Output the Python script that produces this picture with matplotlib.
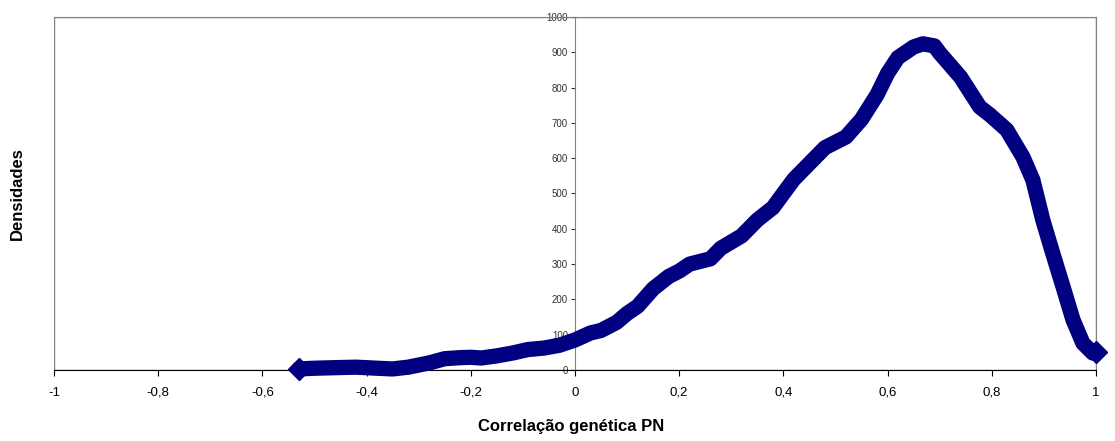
import numpy as np
import matplotlib.pyplot as plt
from matplotlib.patches import Rectangle

plt.rcParams['font.family'] = ['Liberation Sans', 'DejaVu Sans']

# density curve of the genetic correlation (PN)
corr = [-0.53, -0.50, -0.45, -0.42, -0.38, -0.35, -0.32, -0.28, -0.25, -0.22,
        -0.20, -0.18, -0.15, -0.12, -0.09, -0.06, -0.03, 0.00, 0.03, 0.05,
        0.08, 0.10, 0.12, 0.15, 0.18, 0.20, 0.22, 0.26, 0.28, 0.32,
        0.35, 0.38, 0.40, 0.42, 0.45, 0.48, 0.50, 0.52, 0.55, 0.58,
        0.60, 0.62, 0.65, 0.668, 0.69, 0.70, 0.74, 0.777, 0.797, 0.829,
        0.86, 0.879, 0.898, 0.917, 0.937, 0.956, 0.975, 0.994, 1.00]
dens = [3, 5, 7, 8, 5, 3, 8, 20, 32, 35,
        36, 34, 40, 48, 58, 62, 70, 85, 105, 112,
        135, 160, 180, 230, 265, 280, 300, 315, 345, 380,
        425, 460, 500, 540, 585, 630, 645, 660, 710, 780,
        840, 885, 915, 924, 918, 898, 830, 745, 722, 680,
        603, 538, 425, 331, 235, 142, 76, 48, 50]

xticks = [-1, -0.8, -0.6, -0.4, -0.2, 0, 0.2, 0.4, 0.6, 0.8, 1]
xlabels = ["-1", "-0,8", "-0,6", "-0,4", "-0,2", "0", "0,2", "0,4", "0,6", "0,8", "1"]
yticks = [0, 100, 200, 300, 400, 500, 600, 700, 800, 900, 1000]

fig = plt.figure(figsize=(11.15, 4.41), dpi=100)
ax = fig.add_axes([0.0484, 0.161, 0.9345, 0.8005])

ax.plot(corr, dens, color="#000080", lw=11, marker="D", ms=11.5,
        markevery=[0, len(corr) - 1],
        solid_capstyle="round", solid_joinstyle="round", clip_on=False, zorder=3)

ax.set_xlim(-1, 1)
ax.set_ylim(0, 1000)

# frame around the plot area
ax.add_patch(Rectangle((0, 0), 1, 1, transform=ax.transAxes, fill=False,
                       edgecolor="#808080", lw=1, zorder=1))
ax.spines["left"].set_position(("data", 0))
ax.spines["left"].set_color("#808080")
ax.spines["top"].set_color("#808080")
ax.spines["right"].set_color("#808080")
ax.spines["bottom"].set_color("black")

ax.set_xticks(xticks)
ax.set_xticklabels(xlabels)
ax.set_yticks(yticks)
ax.set_yticklabels([str(v) for v in yticks])
ax.tick_params(axis="x", direction="out", length=4, labelsize=9.5, pad=8)
ax.tick_params(axis="y", direction="out", length=3, labelsize=7, pad=2,
               colors="#333333")

fig.text(0.512, 0.032, "Correlação genética PN", ha="center", va="center",
         fontsize=12, fontweight="bold")
fig.text(0.016, 0.56, "Densidades", ha="center", va="center", rotation=90,
         fontsize=12, fontweight="bold")

fig.savefig("out.png", dpi=100)
